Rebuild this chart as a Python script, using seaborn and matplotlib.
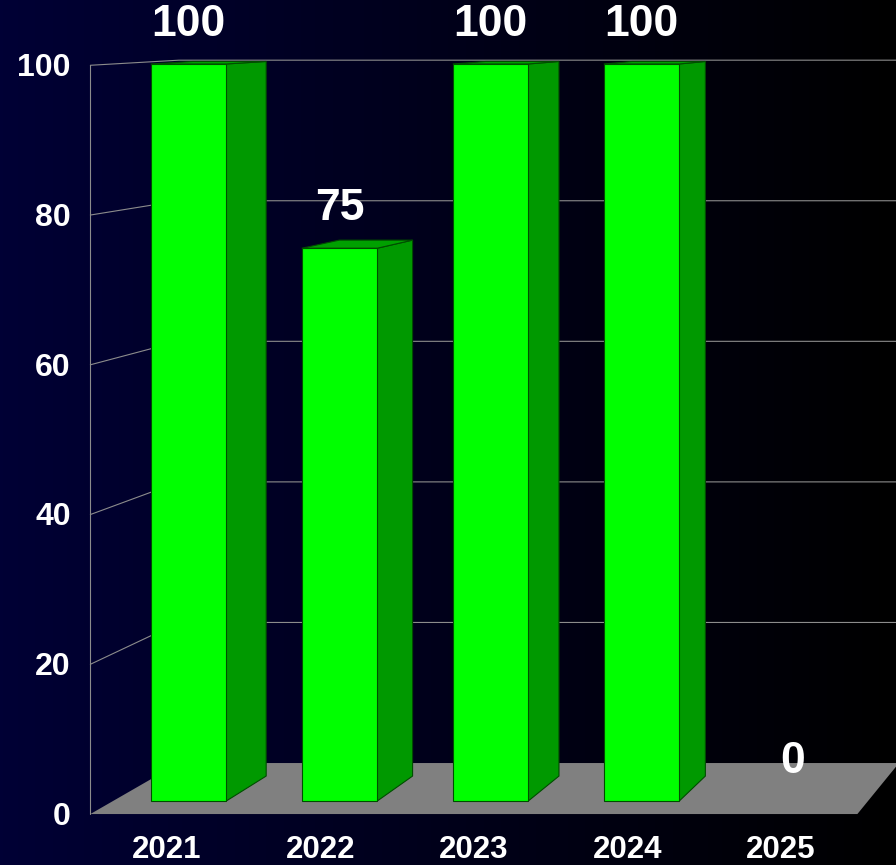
import numpy as np
import pandas as pd
import matplotlib
matplotlib.use('Agg')
import matplotlib.pyplot as plt
from matplotlib.colors import LinearSegmentedColormap
from matplotlib.patches import Polygon
import seaborn as sns

# chart data
years = ['2021', '2022', '2023', '2024', '2025']
values = [100, 75, 100, 100, 0]
y_ticks = [0, 20, 40, 60, 80, 100]

df = pd.DataFrame({'year': years, 'value': values})

sns.set_style('dark')
plt.rcParams['font.family'] = ['Liberation Sans', 'DejaVu Sans']

# simple perspective: depth fraction f pulls points toward a vanishing point
VP = (8.92, 111.1)
F_FRONT, F_BAR, F_BACK = -0.0159, 0.0305, 0.0464


def proj(x, v, f):
    return (x + f * (VP[0] - x), v + f * (VP[1] - v))


fig = plt.figure(figsize=(8.96, 8.65), dpi=100)
ax = fig.add_axes([0, 0, 1, 1])
ax.set_xlim(-1.2483, 4.6854)
ax.set_ylim(-8.68, 108.68)

# background gradient navy -> black
cmap = LinearSegmentedColormap.from_list('bg', ['#000035', '#00001a', '#000000'])
grad = np.linspace(0, 1, 256).reshape(1, -1)
ax.imshow(grad, cmap=cmap, aspect='auto', extent=[-1.2483, 4.6854, -8.68, 108.68], zorder=0)

x_lo, x_hi = -0.5, len(years) - 0.5

# floor
floor = [proj(x_lo, 0, F_FRONT), proj(x_hi, 0, F_FRONT), proj(x_hi, 0, F_BACK), proj(x_lo, 0, F_BACK)]
ax.add_patch(Polygon(floor, closed=True, facecolor='#808080', edgecolor='none', zorder=1))

# grid lines on left and back walls
for t in y_ticks[1:]:
    a = proj(x_lo, t, F_FRONT)
    b = proj(x_lo, t, F_BACK)
    c = proj(x_hi + 0.3, t, F_BACK)
    ax.plot([a[0], b[0], c[0]], [a[1], b[1], c[1]], color='#8c8c8c', lw=0.8, zorder=1)
a = proj(x_lo, 0, F_FRONT)
b = proj(x_lo, 100, F_FRONT)
ax.plot([a[0], b[0]], [a[1], b[1]], color='#8c8c8c', lw=0.8, zorder=1)

# front faces of bars
sns.barplot(data=df, x='year', y='value', color='#00ff00', saturation=1, width=0.5,
            edgecolor='#004d00', linewidth=0.8, ax=ax, zorder=3)
ax.set_xlim(-1.2483, 4.6854)
ax.set_ylim(-8.68, 108.68)

for p in ax.patches:
    if not hasattr(p, 'get_height') or p.get_height() <= 0:
        if hasattr(p, 'get_height'):
            p.set_visible(False)
        continue
    if p.get_facecolor()[:3] != (0.0, 1.0, 0.0):
        continue
    x0, x1, h = p.get_x(), p.get_x() + p.get_width(), p.get_height()
    side = [proj(x1, 0, 0), proj(x1, h, 0), proj(x1, h, F_BAR), proj(x1, 0, F_BAR)]
    top = [proj(x0, h, 0), proj(x1, h, 0), proj(x1, h, F_BAR), proj(x0, h, F_BAR)]
    ax.add_patch(Polygon(side, closed=True, facecolor='#009900', edgecolor='#004d00', lw=0.8, zorder=2))
    ax.add_patch(Polygon(top, closed=True, facecolor='#00a000', edgecolor='#004d00', lw=0.8, zorder=2))

# value labels
for i, v in enumerate(values):
    ax.text(i, v + 5.4, str(v), color='white', fontsize=32, fontweight='bold',
            ha='center', va='center', zorder=5)

# y tick labels on front plane
for t in y_ticks:
    px, py = proj(x_lo, t, F_FRONT)
    ax.annotate(str(t), (px, py), xytext=(-14, -2), textcoords='offset points',
                color='white', fontsize=23, fontweight='bold', ha='right', va='center')

# category labels
for i, yr in enumerate(years):
    px, py = proj(i, 0, F_FRONT)
    ax.annotate(yr, (px, py), xytext=(0, -31.5), textcoords='offset points',
                color='white', fontsize=22.5, fontweight='bold', ha='center', va='baseline')

ax.set_axis_off()
fig.savefig('out.png', dpi=100)
